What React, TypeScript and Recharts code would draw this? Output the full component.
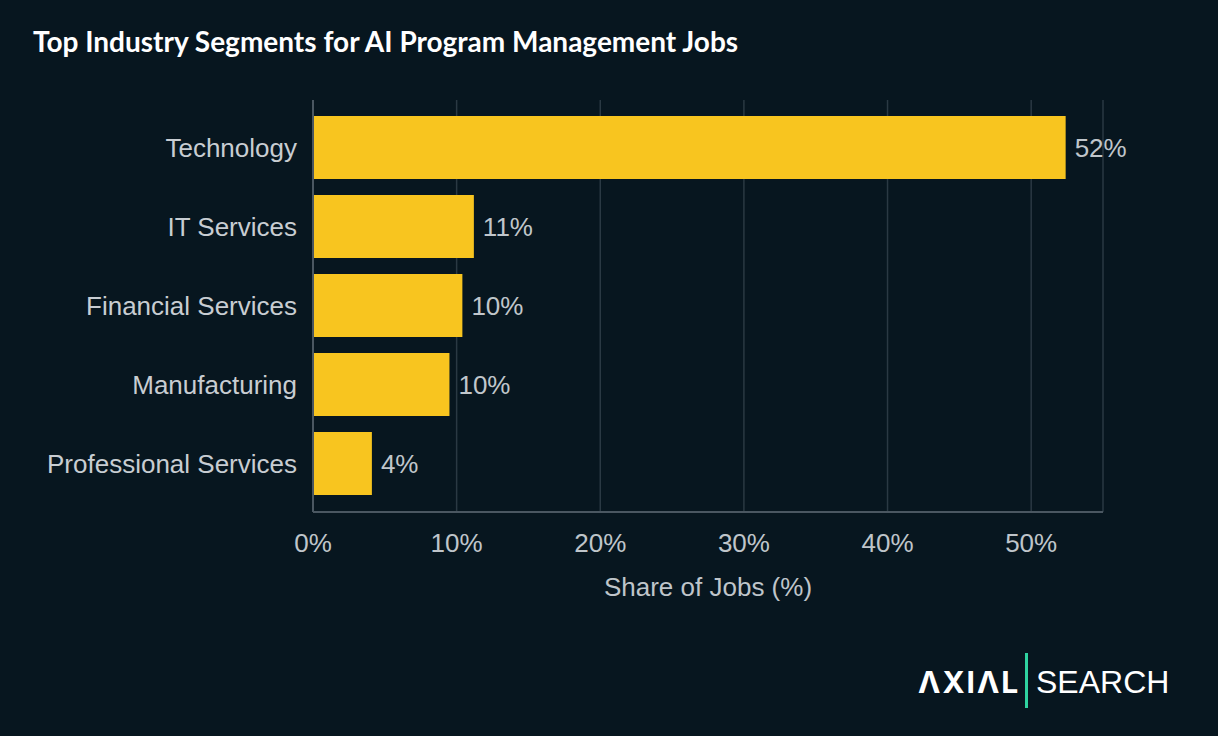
import React from "react";
import { BarChart, Bar, XAxis, YAxis, CartesianGrid, LabelList } from "recharts";

const categories = ["Technology", "IT Services", "Financial Services", "Manufacturing", "Professional Services"];
const shares = [52.4, 11.2, 10.4, 9.5, 4.1];
const shareLabels = ["52%", "11%", "10%", "10%", "4%"];
const xTicks = [0, 10, 20, 30, 40, 50];

const data = categories.map((c, i) => ({ name: c, value: shares[i], label: shareLabels[i] }));

const BG = "#07161f";
const FONT = "'Liberation Sans', Arial, sans-serif";

export default function App() {
  return (
    <div style={{ position: "absolute", left: 0, top: 0, width: 1218, height: 736, background: BG, overflow: "hidden" }}>
      <div style={{ position: "absolute", left: 33, top: 24, color: "#ffffff", fontFamily: "Lato, sans-serif", fontWeight: 700, fontSize: 28, whiteSpace: "nowrap" }}>
        Top Industry Segments for AI Program Management Jobs
      </div>
      <BarChart
        width={1218}
        height={736}
        data={data}
        layout="vertical"
        margin={{ top: 100, right: 115, bottom: 124, left: 0 }}
        barCategoryGap="10%"
      >
        <CartesianGrid horizontal={false} vertical={true} stroke="#2a3943" strokeWidth={1.5} />
        <XAxis
          type="number"
          domain={[0, 55]}
          ticks={xTicks}
          tickFormatter={(v) => `${v}%`}
          tickLine={false}
          tickSize={0}
          tickMargin={22}
          height={100}
          stroke="#4a5761"
          strokeWidth={2}
          tick={{ fill: "#bfc5ca", fontSize: 26, fontFamily: FONT }}
          label={{ value: "Share of Jobs (%)", position: "insideBottom", offset: 16, fill: "#bfc5ca", fontSize: 26, fontFamily: FONT }}
        />
        <YAxis
          type="category"
          dataKey="name"
          width={313}
          tickLine={false}
          tickSize={0}
          tickMargin={16}
          padding={{ top: 8, bottom: 9 }}
          stroke="#4a5761"
          strokeWidth={2}
          tick={{ fill: "#c8cdd2", fontSize: 26, fontFamily: FONT }}
        />
        <Bar dataKey="value" fill="#f8c51f" isAnimationActive={false}>
          <LabelList dataKey="label" position="right" offset={9} fill="#c0c6cb" fontSize={26} fontFamily={FONT} />
        </Bar>
      </BarChart>
      <div style={{ position: "absolute", left: 918, top: 664, color: "#ffffff", fontFamily: "Inter, sans-serif", fontWeight: 700, fontSize: 30, letterSpacing: 2, lineHeight: "36px" }}>
        ΛXIΛL
      </div>
      <div style={{ position: "absolute", left: 1025, top: 653, width: 3, height: 55, background: "#2fd3a0" }} />
      <div style={{ position: "absolute", left: 1036, top: 664, color: "#ffffff", fontFamily: FONT, fontWeight: 400, fontSize: 32, lineHeight: "36px" }}>
        SEARCH
      </div>
    </div>
  );
}
